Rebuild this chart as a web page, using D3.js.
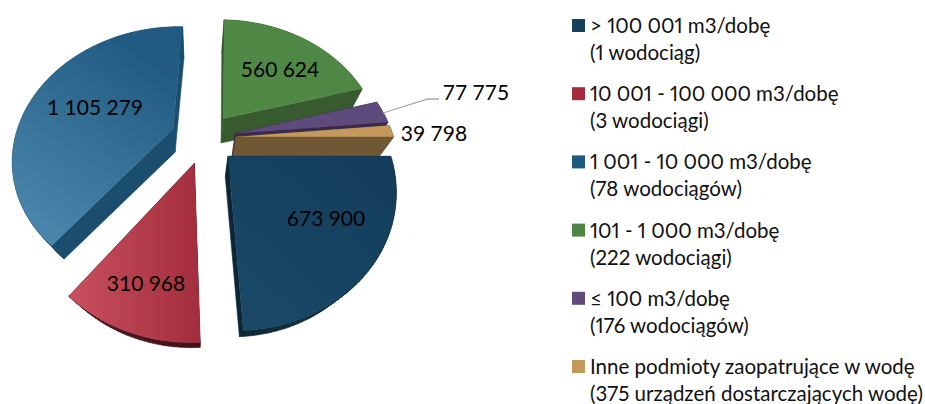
<!DOCTYPE html>
<html>
<head>
<meta charset="utf-8">
<script src="https://cdn.jsdelivr.net/npm/d3@7"></script>
<style>
  html, body { margin: 0; padding: 0; background: #fff; }
  svg { display: block; }
  text { font-family: Lato, "Open Sans", sans-serif; fill: #000; }
  .legend text { fill: #111; font-variant-numeric: proportional-nums; }
</style>
</head>
<body>
<svg id="chart" width="925" height="404"></svg>
<script>
// values
var values = [673900, 310968, 1105279, 560624, 77775, 39798];
var valueLabels = ['673 900', '310 968', '1 105 279', '560 624', '77 775', '39 798'];
var legendFirst = ['> 100 001 m3/dobę', '10 001 - 100 000 m3/dobę', '1 001 - 10 000 m3/dobę',
    '101 - 1 000 m3/dobę', '≤ 100 m3/dobę', 'Inne podmioty zaopatrujące w wodę'];
var legendSecond = ['(1 wodociąg)', '(3 wodociągi)', '(78 wodociągów)',
    '(222 wodociągi)', '(176 wodociągów)', '(375 urządzeń dostarczających wodę)'];

// colours per slice: legend/top light end, top dark end, wall
var topFrom = ['#1a4a68', '#c8505f', '#4f8cb0', '#4f8a45', '#5f4a7c', '#c49a5c'];
var topTo = ['#143c5b', '#a42e3d', '#215b83', '#4f8645', '#5f4a7c', '#c49a5c'];
var wallColor = ['#0b2736', '#46101a', '#1a4d6e', '#375b2e', '#39294d', '#6f5833'];
var swatch = ['#17405e', '#a42c3a', '#1f5a82', '#4f8645', '#5e4a7d', '#c49a5a'];
var gradientAxis = [[230, 340, 395, 160], [70, 300, 198, 300], [20, 250, 150, 60],
    [222, 100, 360, 100], [233, 130, 380, 110], [235, 130, 390, 130]];

// label positions (middle x, baseline y)
var labelPos = [[326, 226], [146, 291], [95, 115], [280, 77], [476, 100], [434, 141]];

// pie projection
var cx = 204.5, cy = 138, radius = 158, radiusY = 127.7, persp = 0.216;
var explode = [0.2, 0.2, 0.215, 0.2, 0.2, 0.2];
// side walls converge to this point
var vanish = [197, 401], depth = 0.086;

function project(u, v) {
    var w = 1 / (1 - persp * v);
    return [cx + radius * u * w, cy + radiusY * v * w];
}

function extrude(p) {
    return [p[0] + depth * (vanish[0] - p[0]), p[1] + depth * (vanish[1] - p[1])];
}

var pie = d3.pie().sort(null).startAngle(Math.PI / 2).endAngle(Math.PI * 2.5);
var arcs = pie(values);
var line = d3.line();

// outline of a slice top: apex, then rim sampled along the arc
function outline(a, i) {
    var mid = (a.startAngle + a.endAngle) / 2;
    var ou = explode[i] * Math.sin(mid), ov = -explode[i] * Math.cos(mid);
    var n = Math.max(6, Math.ceil((a.endAngle - a.startAngle) * 40));
    var pts = [project(ou, ov)];
    d3.range(n + 1).forEach(function (k) {
        var t = a.startAngle + (a.endAngle - a.startAngle) * k / n;
        pts.push(project(ou + Math.sin(t), ov - Math.cos(t)));
    });
    return pts;
}

var svg = d3.select('#chart');
var defs = svg.append('defs');

arcs.forEach(function (a, i) {
    var g = gradientAxis[i];
    var grad = defs.append('linearGradient')
        .attr('id', 'top' + i)
        .attr('gradientUnits', 'userSpaceOnUse')
        .attr('x1', g[0]).attr('y1', g[1]).attr('x2', g[2]).attr('y2', g[3]);
    grad.append('stop').attr('offset', 0).attr('stop-color', topFrom[i]);
    grad.append('stop').attr('offset', 1).attr('stop-color', topTo[i]);
});

// back to front
var drawOrder = [3, 2, 4, 5, 1, 0];
var slices = svg.append('g').attr('class', 'slices');

drawOrder.forEach(function (i) {
    var pts = outline(arcs[i], i);
    var g = slices.append('g');
    pts.forEach(function (p, k) {
        var q = pts[(k + 1) % pts.length];
        g.append('path')
            .attr('d', line([p, q, extrude(q), extrude(p)]) + 'Z')
            .attr('fill', wallColor[i])
            .attr('stroke', wallColor[i])
            .attr('stroke-width', 0.6);
    });
    g.append('path')
        .attr('d', line(pts) + 'Z')
        .attr('fill', 'url(#top' + i + ')');
});

// leader line of the small slice
svg.append('path')
    .attr('d', line([[383, 113], [428, 99], [439, 99]]))
    .attr('fill', 'none')
    .attr('stroke', '#a6a6a6')
    .attr('stroke-width', 1.3);

svg.append('g').selectAll('text')
    .data(valueLabels)
    .join('text')
    .attr('x', function (d, i) { return labelPos[i][0]; })
    .attr('y', function (d, i) { return labelPos[i][1]; })
    .attr('text-anchor', 'middle')
    .attr('font-size', 21)
    .text(function (d) { return d; });

// legend
var rowY = d3.scaleLinear().domain([0, 5]).range([33, 374]);
var legend = svg.append('g').attr('class', 'legend');
var rows = legend.selectAll('g')
    .data(legendFirst)
    .join('g')
    .attr('transform', function (d, i) { return 'translate(0,' + rowY(i) + ')'; });

rows.append('rect')
    .attr('x', 572).attr('y', -14)
    .attr('width', 13).attr('height', 13)
    .attr('fill', function (d, i) { return swatch[i]; });

rows.append('text')
    .attr('x', 590)
    .attr('font-size', 20.5)
    .text(function (d) { return d; });

rows.append('text')
    .attr('x', 590).attr('y', 27)
    .attr('font-size', 20.5)
    .text(function (d, i) { return legendSecond[i]; });
</script>
</body>
</html>
